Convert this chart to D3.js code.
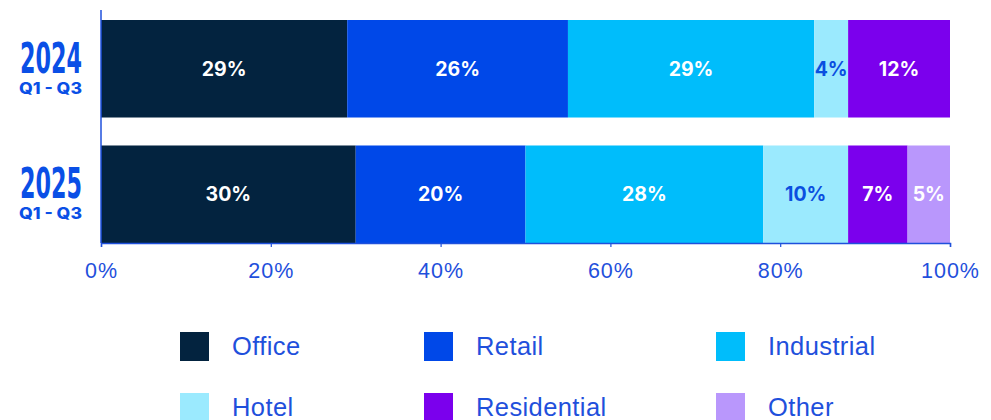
<!DOCTYPE html>
<html>
<head>
<meta charset="utf-8">
<script src="https://cdn.jsdelivr.net/npm/d3@7/dist/d3.min.js"></script>
<style>
  html, body { margin: 0; padding: 0; background: #ffffff; }
  svg { display: block; }
</style>
</head>
<body>
<svg id="chart" width="991" height="420"></svg>
<script>
// Share of investment volume by sector, Q1–Q3
const periods = ["2024", "2025"];
const periodSub = ["Q1 - Q3", "Q1 - Q3"];
const sectors = ["Office", "Retail", "Industrial", "Hotel", "Residential", "Other"];
const values2024 = [29, 26, 29, 4, 12, 0];
const values2025 = [30, 20, 28, 10, 7, 5];
const tickValues = [0, 20, 40, 60, 80, 100];
const colors = ["#03233f", "#0048e8", "#00bdfb", "#9beafe", "#7b00ed", "#b997fc"];
const labelColors = ["#ffffff", "#ffffff", "#ffffff", "#0a4fe0", "#ffffff", "#ffffff"];
const textBlue = "#1f50dc";

const seriesByPeriod = [values2024, values2025];

const svg = d3.select("#chart");
const x = d3.scaleLinear().domain([0, 100]).range([101, 950]);
const y = d3.scaleBand().domain(periods).range([20, 243]).paddingInner(0.223).paddingOuter(0);

// Stack the segments per period
const rows = periods.map((p, i) => {
  let acc = 0;
  return sectors.map((s, j) => {
    const v = seriesByPeriod[i][j];
    const seg = { period: p, sector: s, idx: j, x0: acc, x1: acc + v, v };
    acc += v;
    return seg;
  }).filter(d => d.v > 0);
});

const g = svg.append("g");
rows.forEach(row => {
  const grp = g.append("g");
  grp.selectAll("rect").data(row).join("rect")
    .attr("x", d => x(d.x0))
    .attr("width", d => x(d.x1) - x(d.x0))
    .attr("y", d => y(d.period))
    .attr("height", y.bandwidth())
    .attr("fill", d => colors[d.idx]);
  grp.selectAll("text").data(row).join("text")
    .attr("x", d => (x(d.x0) + x(d.x1)) / 2)
    .attr("y", d => y(d.period) + y.bandwidth() / 2 + 7)
    .attr("text-anchor", "middle")
    .attr("font-family", "Inter, Roboto, sans-serif")
    .attr("font-weight", 700)
    .attr("font-size", 19.5)
    .attr("fill", d => labelColors[d.idx])
    .text(d => d.v + "%");
});

// Bottom axis
const axisY = 243;
const xAxis = d3.axisBottom(x).tickValues(tickValues).tickSize(4).tickSizeOuter(4).tickFormat(d => d + "%");
const ax = svg.append("g").attr("transform", `translate(0,${axisY})`).call(xAxis);
ax.select(".domain").attr("stroke", textBlue).attr("stroke-width", 1.5);
ax.selectAll(".tick line").attr("stroke", textBlue).attr("stroke-width", 1.2);
ax.selectAll(".tick text")
  .attr("fill", textBlue)
  .attr("font-family", "'Liberation Sans', Arial, sans-serif")
  .attr("font-size", 21.5)
  .attr("dy", 0)
  .attr("y", 35)
  .style("letter-spacing", "1px");

// Vertical axis line
svg.append("line")
  .attr("x1", x(0)).attr("x2", x(0))
  .attr("y1", 10).attr("y2", axisY)
  .attr("stroke", textBlue).attr("stroke-width", 1.5);

// Period labels
periods.forEach((p, i) => {
  const top = y(p);
  svg.append("text")
    .attr("x", 82).attr("y", top + 53)
    .attr("text-anchor", "end")
    .attr("font-family", "'DejaVu Sans Condensed', 'DejaVu Sans', sans-serif")
    .attr("font-weight", 700)
    .attr("font-size", 43)
    .attr("textLength", 62)
    .attr("lengthAdjust", "spacingAndGlyphs")
    .attr("fill", "#0a4fe6")
    .text(p);
  svg.append("text")
    .attr("x", 82).attr("y", top + 74)
    .attr("text-anchor", "end")
    .attr("font-family", "Inter, Roboto, sans-serif")
    .attr("font-weight", 800)
    .attr("font-size", 15.5)
    .attr("textLength", 63)
    .attr("lengthAdjust", "spacingAndGlyphs")
    .attr("fill", "#0a4fe6")
    .text(periodSub[i]);
});

// Legend
const legendCols = [180, 424, 716];
const legendRows = [332, 393];
const legend = svg.append("g");
sectors.forEach((s, j) => {
  const cx = legendCols[j % 3];
  const ry = legendRows[Math.floor(j / 3)];
  legend.append("rect")
    .attr("x", cx).attr("y", ry)
    .attr("width", 29).attr("height", 29)
    .attr("fill", colors[j]);
  legend.append("text")
    .attr("x", cx + 52).attr("y", ry + 23)
    .attr("font-family", "'Liberation Sans', Arial, sans-serif")
    .attr("font-size", 25.5)
    .style("letter-spacing", "0.4px")
    .attr("fill", textBlue)
    .text(s);
});
</script>
</body>
</html>
